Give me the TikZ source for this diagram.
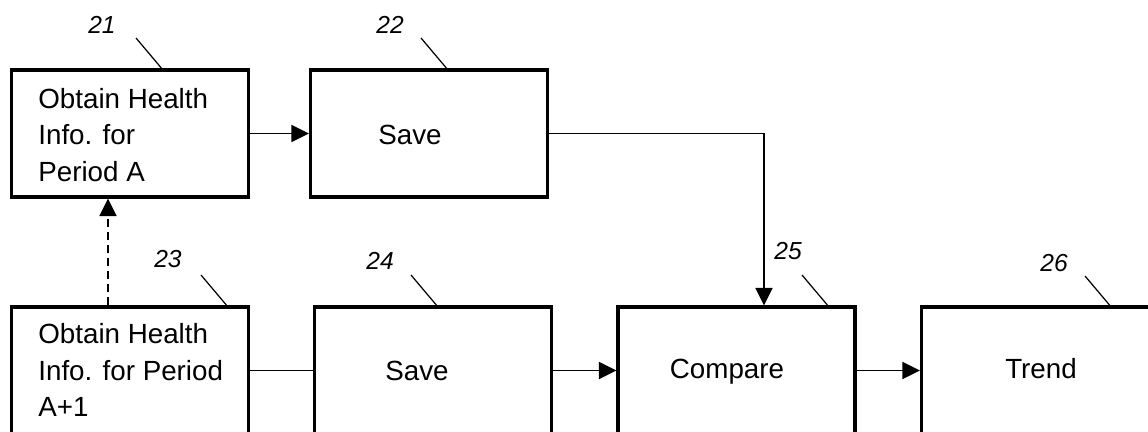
\documentclass[tikz,border=0pt]{standalone}
\usepackage{fontspec}
\setmainfont{Liberation Sans}
\usetikzlibrary{arrows.meta}

\begin{document}
\begin{tikzpicture}[x = 0.02cm, y = -0.02cm,
                        box/.style = {rectangle, draw, line width = 1.9pt, minimum width = 4.74cm, minimum height = 2.54cm, inner sep = 0pt},
                        txt/.style = {font = \fontsize{15.8}{21}\selectfont, inner sep = 0pt},
                        word/.style = {txt, text height = 11.3pt, text depth = 0pt},
                        num/.style = {font = \fontsize{14}{16}\selectfont\itshape, inner sep = 0pt},
                        conn/.style = {line width = 1pt},
                        arr/.style = {line width = 1pt, -{Triangle[length = 0.35cm, width = 0.34cm]}},
                        lead/.style = {line width = 0.7pt}]
      \useasboundingbox (0, 0) rectangle (1148, 432);
      % boxes
      \node [box] (b21) at (130, 133.5){};
      \node [box] (b22) at (429, 133.5){};
      \node [box] (b23) at (130, 370.5){};
      \node [box] (b24) at (433, 370.5){};
      \node [box] (b25) at (736.5, 370.5){};
      \node [box] (b26) at (1040, 370.5){};
      % texts
      \node [txt, align = left, anchor = west] (t21) at (38, 135){Obtain Health\\Info. for\\Period A};
      \node [word] (t22) at (410, 135){Save};
      \node [txt, align = left, anchor = west] (t23) at (38, 370){Obtain Health\\Info. for Period\\A+1};
      \node [word] (t24) at (417, 371){Save};
      \node [word] (t25) at (727, 369){Compare};
      \node [word] (t26) at (1041, 369){Trend};
      % reference numbers
      \node [num] (n21) at (102, 25){21};
      \node [num] (n22) at (390, 25){22};
      \node [num] (n23) at (168, 259){23};
      \node [num] (n24) at (380, 261){24};
      \node [num] (n25) at (788, 251){25};
      \node [num] (n26) at (1054, 263){26};
      \coordinate (l21) at (136, 38);
      \coordinate (l22) at (421, 38);
      \coordinate (l23) at (201, 275);
      \coordinate (l24) at (411, 275);
      \coordinate (l25) at (802, 275);
      \coordinate (l26) at (1085, 276);
      \draw [lead] (l21) -- ++(27, 32);
      \draw [lead] (l22) -- ++(27, 32);
      \draw [lead] (l23) -- ++(27, 32);
      \draw [lead] (l24) -- ++(27, 32);
      \draw [lead] (l25) -- ++(27, 32);
      \draw [lead] (l26) -- ++(27, 32);
      % connectors
      \draw [arr] (b21) -- (b22);
      \draw [arr] (b22.east) -| ([xshift = 0.55cm]b25.north);
      \draw [conn] (b23) -- (b24);
      \draw [arr] (b24) -- (b25);
      \draw [arr] (b25) -- (b26);
      \draw [arr, dash pattern = on 0.16cm off 0.1cm] ([xshift = -0.44cm]b23.north) -- ([xshift = -0.44cm]b21.south);
    \end{tikzpicture}
\end{document}
